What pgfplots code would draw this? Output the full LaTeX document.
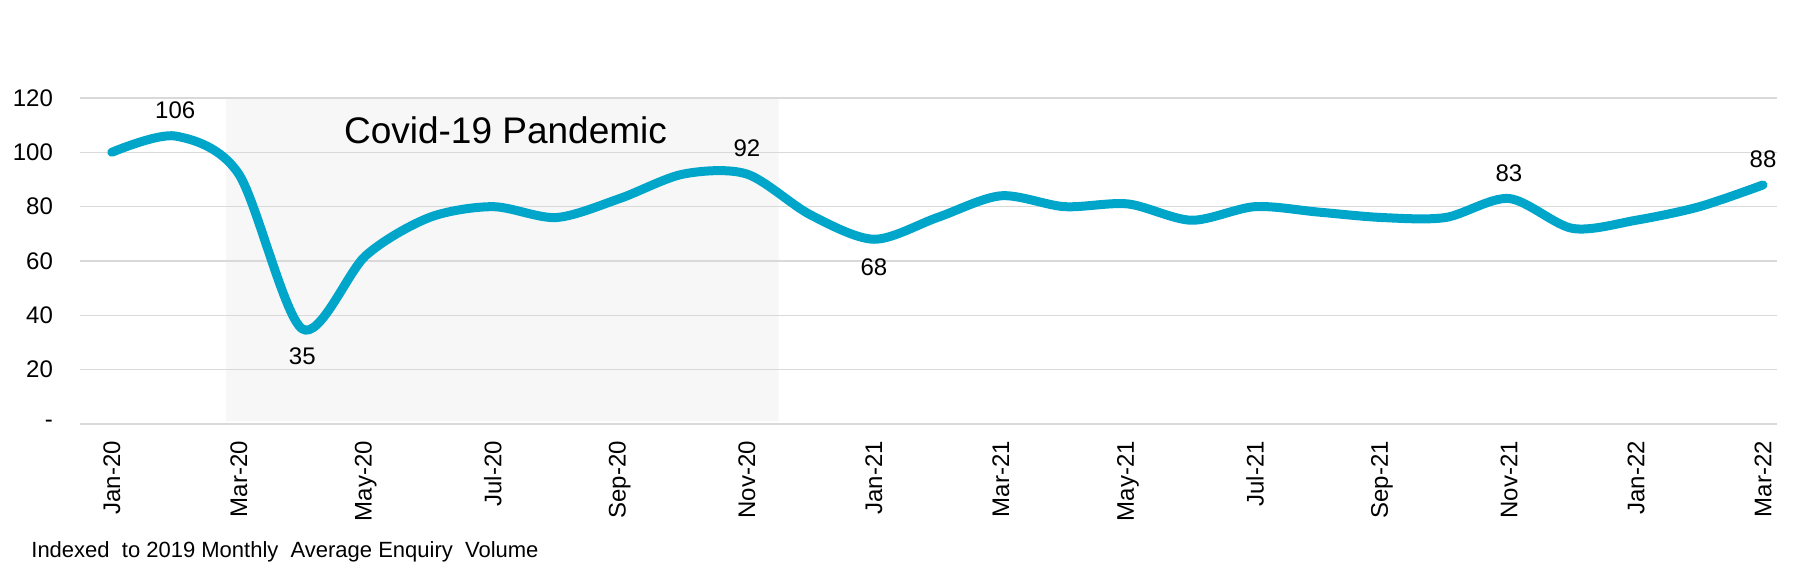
\documentclass[border=0pt]{standalone}
\usepackage{pgfplots}
\pgfplotsset{compat=1.18}
\usepackage{fontspec}
\setmainfont{Liberation Sans}
\definecolor{linecol}{RGB}{0,166,202}
\definecolor{shadec}{RGB}{247,247,247}
\definecolor{gridc}{RGB}{217,217,217}
\begin{document}
\begin{tikzpicture}
% page frame (keeps white margin above the plot)
\path (-40pt,-69pt) rectangle (857.5pt,212pt);
\begin{axis}[
    set layers,
    at={(0,0)}, anchor=south west,
    scale only axis,
    width=848.5pt, height=163pt,
    xmin=-0.5, xmax=26.22,
    ymin=0, ymax=120,
    axis line style={draw=none},
    major tick length=0pt,
    ymajorgrids,
    grid style={gridc, line width=0.8pt},
    ytick={0,20,...,120},
    yticklabels={-,20,40,60,80,100,120},
    xtick={0,2,...,26},
    xticklabels={Jan-20,Mar-20,May-20,Jul-20,Sep-20,Nov-20,Jan-21,Mar-21,May-21,Jul-21,Sep-21,Nov-21,Jan-22,Mar-22},
    tick label style={font=\fontsize{12}{14}\selectfont},
    yticklabel style={xshift=-10pt},
    xticklabel style={yshift=-5pt, rotate=90, anchor=east},
    clip=false,
]
% Covid-19 period shading
\addplot[on layer=axis background, fill=shadec, draw=none]
    coordinates {(1.8,1) (10.5,1) (10.5,120) (1.8,120)} \closedcycle;

% monthly index
\addplot[linecol, line width=4.5pt, smooth, tension=0.5, line cap=round]
    coordinates {
    (0,100) (1,106) (2,92) (3,35) (4,62) (5,76) (6,80) (7,76) (8,83)
    (9,92) (10,92) (11,77) (12,68) (13,76) (14,84) (15,80) (16,81)
    (17,75) (18,80) (19,78) (20,76) (21,76) (22,83) (23,72) (24,75)
    (25,80) (26,88)
    };

% labels above
\addplot[draw=none, nodes near coords, point meta=explicit symbolic,
    nodes near coords style={anchor=south, yshift=5pt, font=\fontsize{12}{14}\selectfont}]
    coordinates {(1,106)[106] (10,92)[92] (22,83)[83] (26,88)[88]};
% labels below
\addplot[draw=none, nodes near coords, point meta=explicit symbolic,
    nodes near coords style={anchor=north, yshift=-6pt, font=\fontsize{12}{14}\selectfont}]
    coordinates {(3,35)[35] (12,68)[68]};

\node[font=\fontsize{18.5}{20}\selectfont] at (axis cs:6.2,108) {Covid-19 Pandemic};
\end{axis}
\node[anchor=base west, inner sep=0pt, font=\fontsize{11}{13}\selectfont] at (-24.5pt,-67pt)
    {Indexed\ \ to 2019 Monthly\ \ Average Enquiry\ \ Volume};
\end{tikzpicture}
\end{document}
